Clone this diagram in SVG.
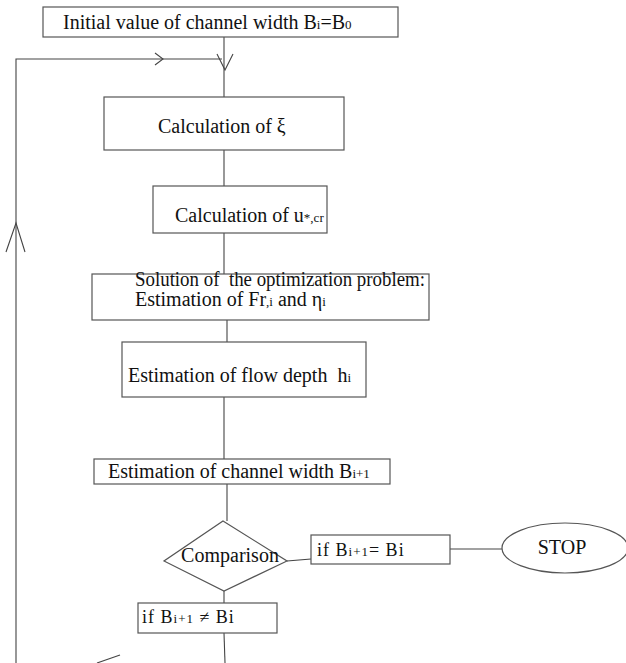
<svg xmlns="http://www.w3.org/2000/svg" width="626" height="663" viewBox="0 0 626 663">
<style>
.box{fill:#fff;stroke:#555;stroke-width:1.2}
.ln{fill:none;stroke:#444;stroke-width:1.1}
text{font-family:"Liberation Serif","Times New Roman",serif;font-size:20px;fill:#111;white-space:pre}
.s{font-size:13px}
.c{font-size:18px;letter-spacing:1px}
</style>
<rect width="626" height="663" fill="#fff"/>
<g id="connectors">
<path class="ln" d="M224,37 V97"/>
<path class="ln" d="M217,54 L225,70 L233,54"/>
<path class="ln" d="M16,663 V59 H222"/>
<path class="ln" d="M155,53 L163,59 L155,65"/>
<path class="ln" d="M6,252 L16,223 L25,252"/>
<path class="ln" d="M224,150 V186"/>
<path class="ln" d="M224,233 V274"/>
<path class="ln" d="M227,320 V342"/>
<path class="ln" d="M224,397 V459"/>
<path class="ln" d="M227,484 V521"/>
<path class="ln" d="M287,561 L311,559"/>
<path class="ln" d="M450,549 H502"/>
<path class="ln" d="M224,591 V603"/>
<path class="ln" d="M224,633 L225,663"/>
<path class="ln" d="M97,663 L120,655"/>
</g>
<g id="init">
<rect class="box" x="43" y="7" width="355" height="30"/>
<text x="63" y="29">Initial value of channel width B<tspan class="s">i</tspan>=B<tspan class="s">0</tspan></text>
</g>
<g id="xi">
<rect class="box" x="104" y="97" width="240" height="53"/>
<text x="158" y="133">Calculation of ξ</text>
</g>
<g id="ucr">
<rect class="box" x="153" y="186" width="174" height="47"/>
<text x="175" y="222">Calculation of u<tspan class="s">*,cr</tspan></text>
</g>
<g id="opt">
<rect class="box" x="92" y="274" width="337" height="46"/>
<text x="135" y="286" textLength="290" lengthAdjust="spacingAndGlyphs">Solution of  the optimization problem:</text>
<text x="135" y="306">Estimation of Fr<tspan class="s">,i</tspan> and η<tspan class="s">i</tspan></text>
</g>
<g id="depth">
<rect class="box" x="122" y="342" width="244" height="55"/>
<text x="128" y="382">Estimation of flow depth  h<tspan class="s">i</tspan></text>
</g>
<g id="width">
<rect class="box" x="94" y="459" width="296" height="25"/>
<text x="108" y="478">Estimation of channel width B<tspan class="s">i+1</tspan></text>
</g>
<g id="comparison">
<polygon class="box" points="223,521 287,561 224,591 164,561"/>
<text x="230" y="562" text-anchor="middle">Comparison</text>
</g>
<g id="equal">
<rect class="box" x="311" y="535" width="139" height="29"/>
<text class="c" x="317" y="556">if B<tspan class="s">i+1</tspan>= Bi</text>
</g>
<g id="stop">
<ellipse class="box" cx="565" cy="548" rx="63" ry="25"/>
<text x="562" y="554" text-anchor="middle">STOP</text>
</g>
<g id="notequal">
<rect class="box" x="138" y="603" width="139" height="30"/>
<text class="c" x="142" y="623">if B<tspan class="s">i+1</tspan> ≠ Bi</text>
</g>
</svg>
